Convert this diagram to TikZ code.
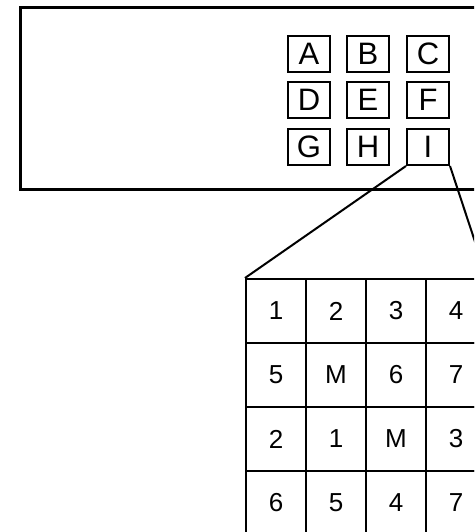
\documentclass[tikz,border=0pt]{standalone}
\usepackage{fontspec}
\setmainfont{Liberation Sans}
\begin{document}
\begin{tikzpicture}[x=1pt,y=-1pt,
  keybox/.style={draw,line width=2pt,minimum width=42pt,minimum height=36pt,inner sep=0pt,font=\fontsize{31}{31}\selectfont},
  cellbox/.style={draw,line width=2pt,minimum width=60pt,minimum height=64pt,inner sep=0pt,font=\fontsize{26}{26}\selectfont},
  link/.style={line width=2pt}]
\clip (0,0) rectangle (474,532);
\fill[white] (0,0) rectangle (474,532);
\draw[line width=3pt] (20,8) rectangle (500,189);
% keypad
\foreach \t/\x/\y in {A/309/54,B/368/54,C/428/54,D/309/100,E/368/100,F/428/100,G/309/147,H/368/147,I/428/147}
  \node[keybox] (k\t) at (\x,\y) {\t};
% grid
\foreach \r/\y/\a/\b/\c/\d in {1/311/1/2/3/4,2/375/5/M/6/7,3/439/2/1/M/3,4/503/6/5/4/7}{
  \node[cellbox] (c\r1) at (276,\y) {\a};
  \node[cellbox] (c\r2) at (336,\y) {\b};
  \node[cellbox] (c\r3) at (396,\y) {\c};
  \node[cellbox] (c\r4) at (456,\y) {\d};
}
\draw[link] (kI.south west) -- (c11.north west);
\draw[link] (kI.south east) -- (c14.north east);
\end{tikzpicture}
\end{document}
